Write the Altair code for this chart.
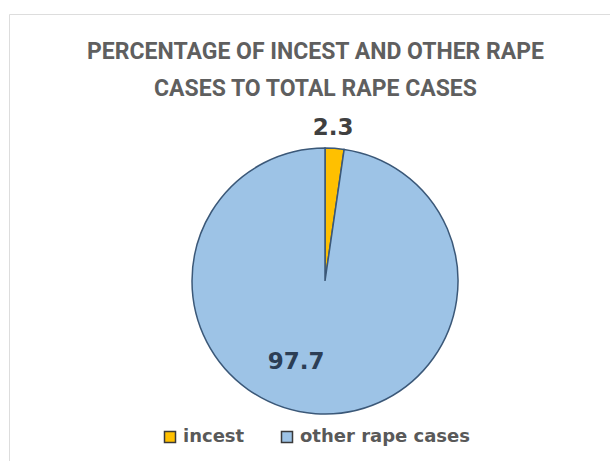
import altair as alt
import pandas as pd

categories = ["incest", "other rape cases"]
values = [2.3, 97.7]
labels = ["2.3", "97.7"]
colors = ["#FFC000", "#9DC3E6"]

df = pd.DataFrame({"category": categories, "value": values, "label": labels})

CX, CY = 316, 267  # pie centre inside the framed view

color_enc = alt.Color(
    "category:N",
    scale=alt.Scale(domain=categories, range=colors),
    legend=alt.Legend(
        title=None,
        orient="none",
        direction="horizontal",
        legendX=152,
        legendY=414,
        symbolType="square",
        symbolSize=121,
        symbolStrokeColor="#3a3a3a",
        symbolStrokeWidth=1.5,
        labelFont="DejaVu Sans",
        labelFontWeight="bold",
        labelFontSize=18,
        labelColor="#595959",
        labelOffset=4,
        labelLimit=400,
        columnPadding=33,
        padding=0,
    ),
)

base = alt.Chart(df).encode(
    theta=alt.Theta("value:Q", stack=True),
    order=alt.Order("category:N"),
)

pie = base.mark_arc(
    outerRadius=133, stroke="#3b5878", strokeWidth=1.5
).encode(color=color_enc, x=alt.value(CX), y=alt.value(CY))

lab_small = base.mark_text(
    radius=153, dx=-3, font="DejaVu Sans", fontWeight="bold", fontSize=23,
    align="center", baseline="middle", color="#404040",
).encode(
    text="label:N",
    x=alt.value(CX), y=alt.value(CY),
    opacity=alt.condition(alt.datum.category == "incest", alt.value(1), alt.value(0)),
)

lab_big = base.mark_text(
    radius=81, dx=-23, font="DejaVu Sans", fontWeight="bold", fontSize=23,
    align="center", baseline="middle", color="#2c3e55",
).encode(
    text="label:N",
    x=alt.value(CX), y=alt.value(CY),
    opacity=alt.condition(alt.datum.category == "other rape cases", alt.value(1), alt.value(0)),
)

chart = (
    alt.layer(pie, lab_small, lab_big)
    .properties(
        width=601,
        height=447,
        padding={"left": 9, "top": 14, "right": 0, "bottom": 0},
        autosize=alt.AutoSizeParams(type="none"),
        title=alt.TitleParams(
            text=["PERCENTAGE OF INCEST AND OTHER RAPE", "CASES TO TOTAL RAPE CASES"],
            font="Roboto",
            fontWeight="bold",
            fontSize=23,
            color="#5f5f5f",
            anchor="middle",
            lineHeight=37,
            offset=-87,
            dx=6,
        ),
    )
    .configure_view(stroke="#d4d4d4", strokeWidth=2)
    .configure(background="white")
)

chart.save("out.html", embed_options={"renderer": "svg", "actions": False})
